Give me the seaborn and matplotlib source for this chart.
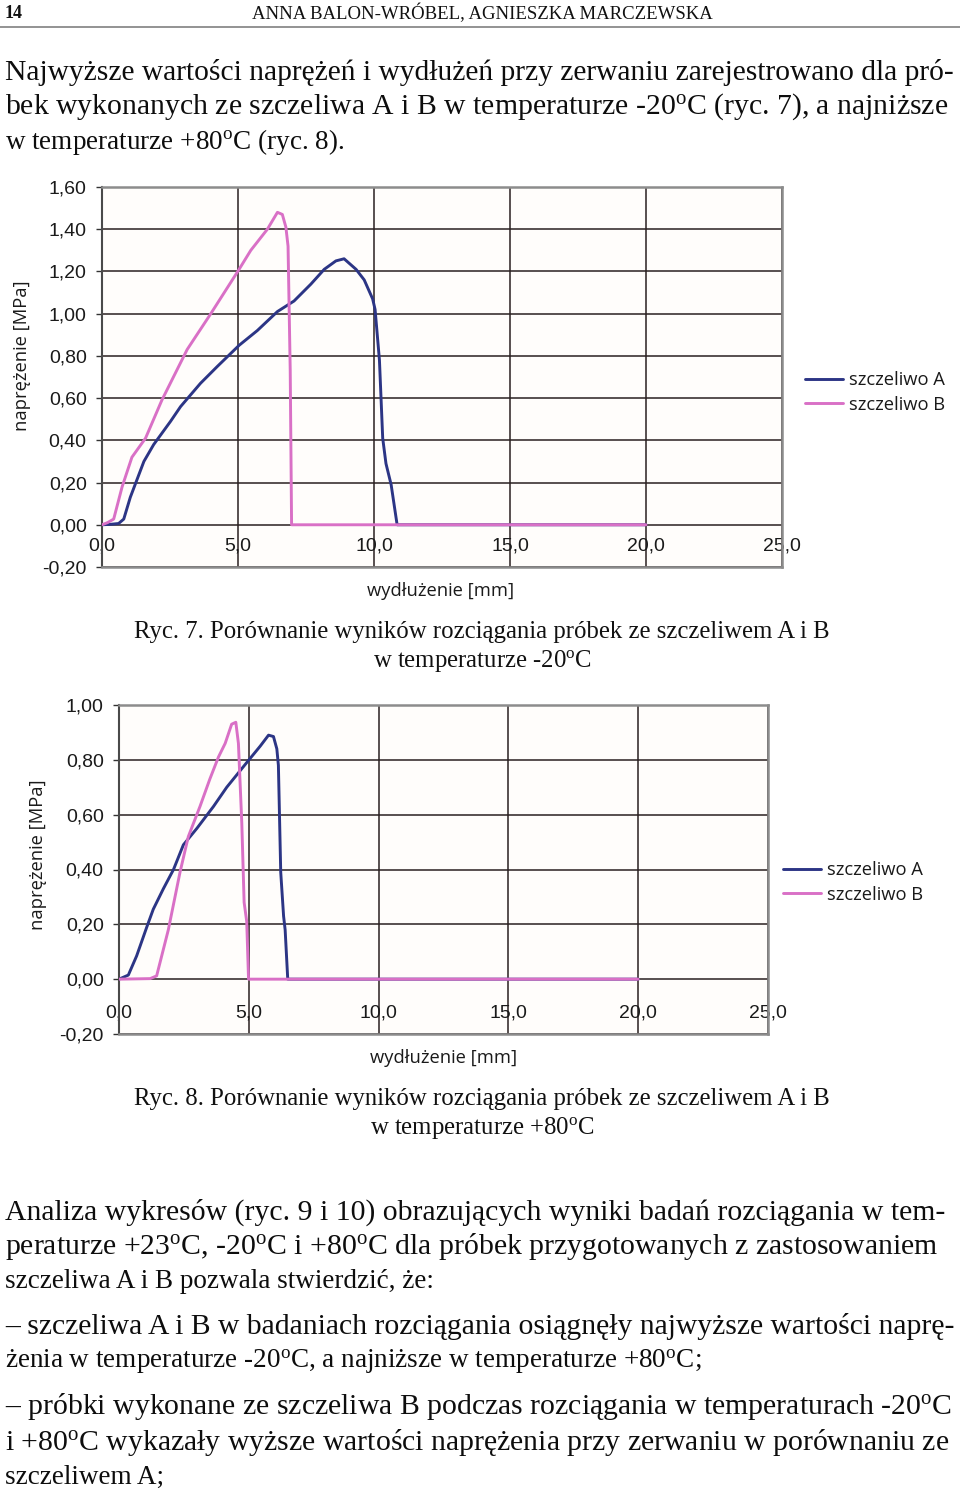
import matplotlib
matplotlib.use("Agg")
import matplotlib.pyplot as plt
import seaborn as sns
import pandas as pd

# ---------------- data ----------------
series_names = ["szczeliwo A", "szczeliwo B"]
x_ticks = [0, 5, 10, 15, 20, 25]
x_tick_labels = ["0,0", "5,0", "10,0", "15,0", "20,0", "25,0"]
y1_ticks = [-0.2, 0.0, 0.2, 0.4, 0.6, 0.8, 1.0, 1.2, 1.4, 1.6]
y1_tick_labels = ["-0,20", "0,00", "0,20", "0,40", "0,60", "0,80", "1,00", "1,20", "1,40", "1,60"]
y2_ticks = [-0.2, 0.0, 0.2, 0.4, 0.6, 0.8, 1.0]
y2_tick_labels = ["-0,20", "0,00", "0,20", "0,40", "0,60", "0,80", "1,00"]

# Ryc. 7 (-20 C)
c7_A_x = [0, 0.3, 0.61, 0.8, 1.04, 1.54, 1.9, 2.52, 2.89, 3.62, 4.24, 5.04, 5.71, 6.45, 7.06, 7.68,
          8.17, 8.6, 8.9, 9.34, 9.64, 9.95, 10.04, 10.2, 10.32, 10.44, 10.63, 10.85, 20.0]
c7_A_y = [0, 0.002, 0.006, 0.027, 0.13, 0.30, 0.38, 0.49, 0.56, 0.67, 0.75, 0.85, 0.92, 1.01, 1.06, 1.14,
          1.21, 1.25, 1.26, 1.21, 1.16, 1.07, 1.02, 0.78, 0.41, 0.29, 0.19, 0.0, 0.0]
c7_B_x = [0, 0.2, 0.43, 0.74, 1.1, 1.6, 2.2, 3.13, 4.0, 5.04, 5.47, 6.08, 6.45, 6.63, 6.76, 6.84, 6.92, 6.97, 20.0]
c7_B_y = [0, 0.01, 0.027, 0.18, 0.32, 0.41, 0.59, 0.83, 1.0, 1.21, 1.30, 1.40, 1.48, 1.47, 1.41, 1.32, 0.73, 0.0, 0.0]

# Ryc. 8 (+80 C)
c8_A_x = [0, 0.36, 0.68, 1.07, 1.32, 1.71, 2.1, 2.48, 3.0, 3.64, 4.15, 4.92, 5.44, 5.76, 5.95, 6.08,
          6.14, 6.23, 6.34, 6.4, 6.5, 20.0]
c8_A_y = [0, 0.015, 0.085, 0.19, 0.255, 0.33, 0.40, 0.49, 0.55, 0.63, 0.70, 0.79, 0.85, 0.89, 0.885, 0.84,
          0.78, 0.39, 0.23, 0.18, 0.0, 0.0]
c8_B_x = [0, 1.2, 1.45, 1.9, 2.35, 2.67, 3.12, 3.5, 3.83, 4.09, 4.34, 4.5, 4.6, 4.73, 4.82, 4.92, 4.99, 20.0]
c8_B_y = [0, 0.002, 0.012, 0.18, 0.39, 0.52, 0.63, 0.73, 0.81, 0.86, 0.93, 0.937, 0.86, 0.57, 0.28, 0.21, 0.0, 0.0]

x_label = "wydłużenie [mm]"
y_label = "naprężenie [MPa]"

header_page = "14"
header_authors = "ANNA BALON-WRÓBEL, AGNIESZKA MARCZEWSKA"
deg = r"$^{\mathrm{o}}$"
para1 = [
    ("Najwyższe wartości naprężeń i wydłużeń przy zerwaniu zarejestrowano dla pró-", True),
    ("bek wykonanych ze szczeliwa A i B w temperaturze -20" + deg + "C (ryc. 7), a najniższe", True),
    ("w temperaturze +80" + deg + "C (ryc. 8).", False),
]
caption7 = ["Ryc. 7. Porównanie wyników rozciągania próbek ze szczeliwem A i B",
            "w temperaturze -20" + deg + "C"]
caption8 = ["Ryc. 8. Porównanie wyników rozciągania próbek ze szczeliwem A i B",
            "w temperaturze +80" + deg + "C"]
para2 = [
    ("Analiza wykresów (ryc. 9 i 10) obrazujących wyniki badań rozciągania w tem-", True, 1212),
    ("peraturze +23" + deg + "C, -20" + deg + "C i +80" + deg + "C dla próbek przygotowanych z zastosowaniem", True, 1247),
    ("szczeliwa A i B pozwala stwierdzić, że:", False, 1282),
    ("– szczeliwa A i B w badaniach rozciągania osiągnęły najwyższe wartości naprę-", True, 1327),
    ("żenia w temperaturze -20" + deg + "C, a najniższe w temperaturze +80" + deg + "C;", False, 1362),
    ("– próbki wykonane ze szczeliwa B podczas rozciągania w temperaturach -20" + deg + "C", True, 1407),
    ("i +80" + deg + "C wykazały wyższe wartości naprężenia przy zerwaniu w porównaniu ze", True, 1442),
    ("szczeliwem A;", False, 1477),
]

# ---------------- style ----------------
sns.set_theme(style="white")
plt.rcParams["font.family"] = ["Liberation Serif", "DejaVu Serif"]
plt.rcParams["mathtext.fontset"] = "custom"
plt.rcParams["mathtext.rm"] = "Liberation Serif"
plt.rcParams["mathtext.it"] = "Liberation Serif:italic"

W, H = 960, 1494
fig = plt.figure(figsize=(W / 100, H / 100), dpi=100, facecolor="white")

def fx(x):
    return x / W

def fy(y):
    return 1 - y / H

COL_A = "#2c3585"
COL_B = "#d970c6"
GRID = "#2a2020"
SANS = ["Liberation Sans", "DejaVu Sans"]
OPEN = ["Open Sans", "DejaVu Sans"]

def make_chart(rect, ax_x, ax_y, bx, by, yticks, ylabels, ylim, ylab_xy, xlab_xy, leg_xy):
    ax = fig.add_axes(rect)
    ax.set_facecolor("#fffdfb")
    dA = pd.DataFrame({"x": ax_x, "y": ax_y})
    dB = pd.DataFrame({"x": bx, "y": by})
    sns.lineplot(data=dA, x="x", y="y", ax=ax, color=COL_A, lw=2.1, sort=False,
                 estimator=None, label=series_names[0], zorder=3)
    sns.lineplot(data=dB, x="x", y="y", ax=ax, color=COL_B, lw=2.1, sort=False,
                 estimator=None, label=series_names[1], zorder=4)
    ax.set_xlim(0, 25)
    ax.set_ylim(*ylim)
    ax.set_xticks(x_ticks)
    ax.set_xticklabels(x_tick_labels, family=SANS, fontsize=14, color="#1a1a1a")
    ax.set_yticks(yticks)
    ax.set_yticklabels(ylabels, family=SANS, fontsize=14, color="#1a1a1a")
    ax.tick_params(axis="x", length=0, pad=-21)
    ax.tick_params(axis="y", length=4, width=1.0, color="#333333", pad=7, direction="out", left=True)
    ax.grid(True, color=GRID, lw=1.1, zorder=1)
    ax.set_axisbelow(True)
    for s in ["top", "right", "bottom"]:
        ax.spines[s].set_color("#8c8c8c")
        ax.spines[s].set_linewidth(1.8)
    ax.spines["left"].set_color("#4a4a4a")
    ax.spines["left"].set_linewidth(1.5)
    ax.set_xlabel(x_label, family=OPEN, fontsize=13.2, color="#1a1a1a", va="center")
    ax.set_ylabel(y_label, family=OPEN, fontsize=13.2, color="#1a1a1a", va="center")
    ax.xaxis.set_label_coords(*xlab_xy)
    ax.yaxis.set_label_coords(*ylab_xy)
    leg = ax.legend(loc="center left", bbox_to_anchor=leg_xy, frameon=False, borderpad=0,
                    borderaxespad=0, handlelength=2.05, handletextpad=0.35, labelspacing=0.35,
                    prop={"family": OPEN, "size": 13.2})
    for t in leg.get_texts():
        t.set_color("#1a1a1a")
    for l in leg.get_lines():
        l.set_linewidth(2.1)
    return ax

make_chart([fx(102), fy(567), 680 / W, 380 / H], c7_A_x, c7_A_y, c7_B_x, c7_B_y,
           y1_ticks, y1_tick_labels, (-0.2, 1.6),
           ((22 - 102) / 680, (567 - 356) / 380), ((441 - 102) / 680, (567 - 591) / 380),
           ((805 - 102) / 680, (567 - 392.5) / 380))
make_chart([fx(119), fy(1034), 649 / W, 329 / H], c8_A_x, c8_A_y, c8_B_x, c8_B_y,
           y2_ticks, y2_tick_labels, (-0.2, 1.0),
           ((38 - 119) / 649, (1034 - 855) / 329), ((444 - 119) / 649, (1034 - 1058) / 329),
           ((783 - 119) / 649, (1034 - 882.5) / 329))

# ---------------- page text ----------------
fig.text(fx(5), fy(13), header_page, fontsize=13, weight="bold", va="center", ha="left", color="#111111")
fig.text(fx(482), fy(13), header_authors, fontsize=13.5, va="center", ha="center", color="#111111")
fig.add_artist(plt.Line2D([0, 1], [fy(27), fy(27)], color="#8a8a8a", lw=1.3, transform=fig.transFigure))

BODY = 19.5
renderer = fig.canvas.get_renderer()

def body_line(txt, y, justify):
    t = fig.text(fx(5), fy(y), txt, fontsize=BODY, va="center", ha="left", color="#0d0d0d")
    if justify:
        size = BODY
        for _ in range(3):
            w = t.get_window_extent(renderer=renderer).width
            size = size * (950.0 / w)
            size = max(BODY * 0.9, min(BODY * 1.1, size))
            t.set_fontsize(size)
    return t

for (txt, j), y in zip(para1, [72, 107, 142]):
    body_line(txt, y, j)

CAP = 17.8
fig.text(fx(482), fy(632), caption7[0], fontsize=CAP, va="center", ha="center", color="#111111")
fig.text(fx(482), fy(661), caption7[1], fontsize=CAP, va="center", ha="center", color="#111111")
fig.text(fx(482), fy(1099), caption8[0], fontsize=CAP, va="center", ha="center", color="#111111")
fig.text(fx(482), fy(1128), caption8[1], fontsize=CAP, va="center", ha="center", color="#111111")

for txt, j, y in para2:
    body_line(txt, y, j)

fig.savefig("out.png", dpi=100, facecolor="white")
